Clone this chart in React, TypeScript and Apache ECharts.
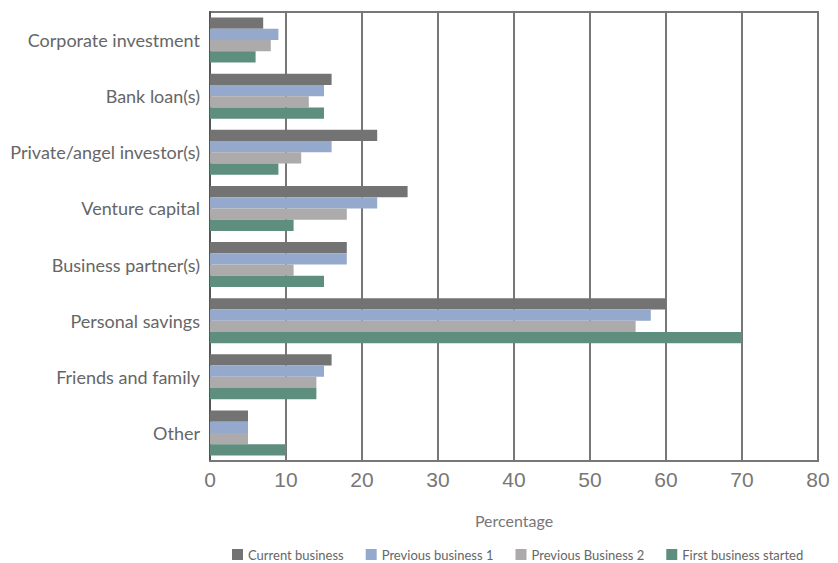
import React, { useEffect, useRef } from "react";
import * as echarts from "echarts";

const categories = [
  "Corporate investment",
  "Bank loan(s)",
  "Private/angel investor(s)",
  "Venture capital",
  "Business partner(s)",
  "Personal savings",
  "Friends and family",
  "Other",
];
const currentBusiness = [7, 16, 22, 26, 18, 60, 16, 5];
const previousBusiness1 = [9, 15, 16, 22, 18, 58, 15, 5];
const previousBusiness2 = [8, 13, 12, 18, 11, 56, 14, 5];
const firstBusinessStarted = [6, 15, 9, 11, 15, 70, 14, 10];
const seriesNames = ["Current business", "Previous business 1", "Previous Business 2", "First business started"];
const xTicks = [0, 10, 20, 30, 40, 50, 60, 70, 80];
const colors = ["#737373", "#94a9cb", "#acaaaa", "#5e8f7e"];

const tickFont = "'Liberation Sans', sans-serif";
const labelFont = "'Lato', 'Open Sans', sans-serif";

export default function App() {
  const ref = useRef<HTMLDivElement>(null);
  useEffect(() => {
    if (!ref.current) return;
    const chart = echarts.init(ref.current, null, { renderer: "svg" });
    const data = [currentBusiness, previousBusiness1, previousBusiness2, firstBusinessStarted];
    chart.setOption({
      animation: false,
      grid: {
        left: 210,
        right: 20,
        top: 12,
        bottom: 102,
        show: true,
        borderColor: "#777",
        borderWidth: 2,
      },
      legend: {
        top: 548,
        left: 232,
        width: 606,
        padding: 0,
        itemWidth: 11,
        itemHeight: 11,
        itemGap: 22,
        icon: "rect",
        textStyle: { fontFamily: labelFont, fontSize: 13, color: "#666" },
        data: seriesNames,
      },
      xAxis: {
        type: "value",
        min: xTicks[0],
        max: xTicks[xTicks.length - 1],
        interval: xTicks[1] - xTicks[0],
        name: "Percentage",
        nameLocation: "middle",
        nameGap: 51,
        nameTextStyle: { fontFamily: labelFont, fontSize: 16, color: "#777" },
        axisLine: { show: true, lineStyle: { color: "#777", width: 2 } },
        axisTick: { show: false },
        axisLabel: { fontFamily: tickFont, fontSize: 21, color: "#777", margin: 8 },
        splitLine: { show: true, lineStyle: { color: "#777", width: 2 } },
      },
      yAxis: {
        type: "category",
        data: categories,
        inverse: true,
        axisLine: { show: true, lineStyle: { color: "#555", width: 2 } },
        axisTick: { show: false },
        axisLabel: { fontFamily: labelFont, fontSize: 18, color: "#666", margin: 10 },
      },
      series: data.map((d, i) => ({
        name: seriesNames[i],
        type: "bar",
        data: d,
        barGap: "0%",
        barCategoryGap: "20%",
        itemStyle: { color: colors[i] },
      })),
    });
    return () => chart.dispose();
  }, []);
  return <div ref={ref} style={{ position: "absolute", left: 0, top: 0, width: 838, height: 563 }} />;
}
